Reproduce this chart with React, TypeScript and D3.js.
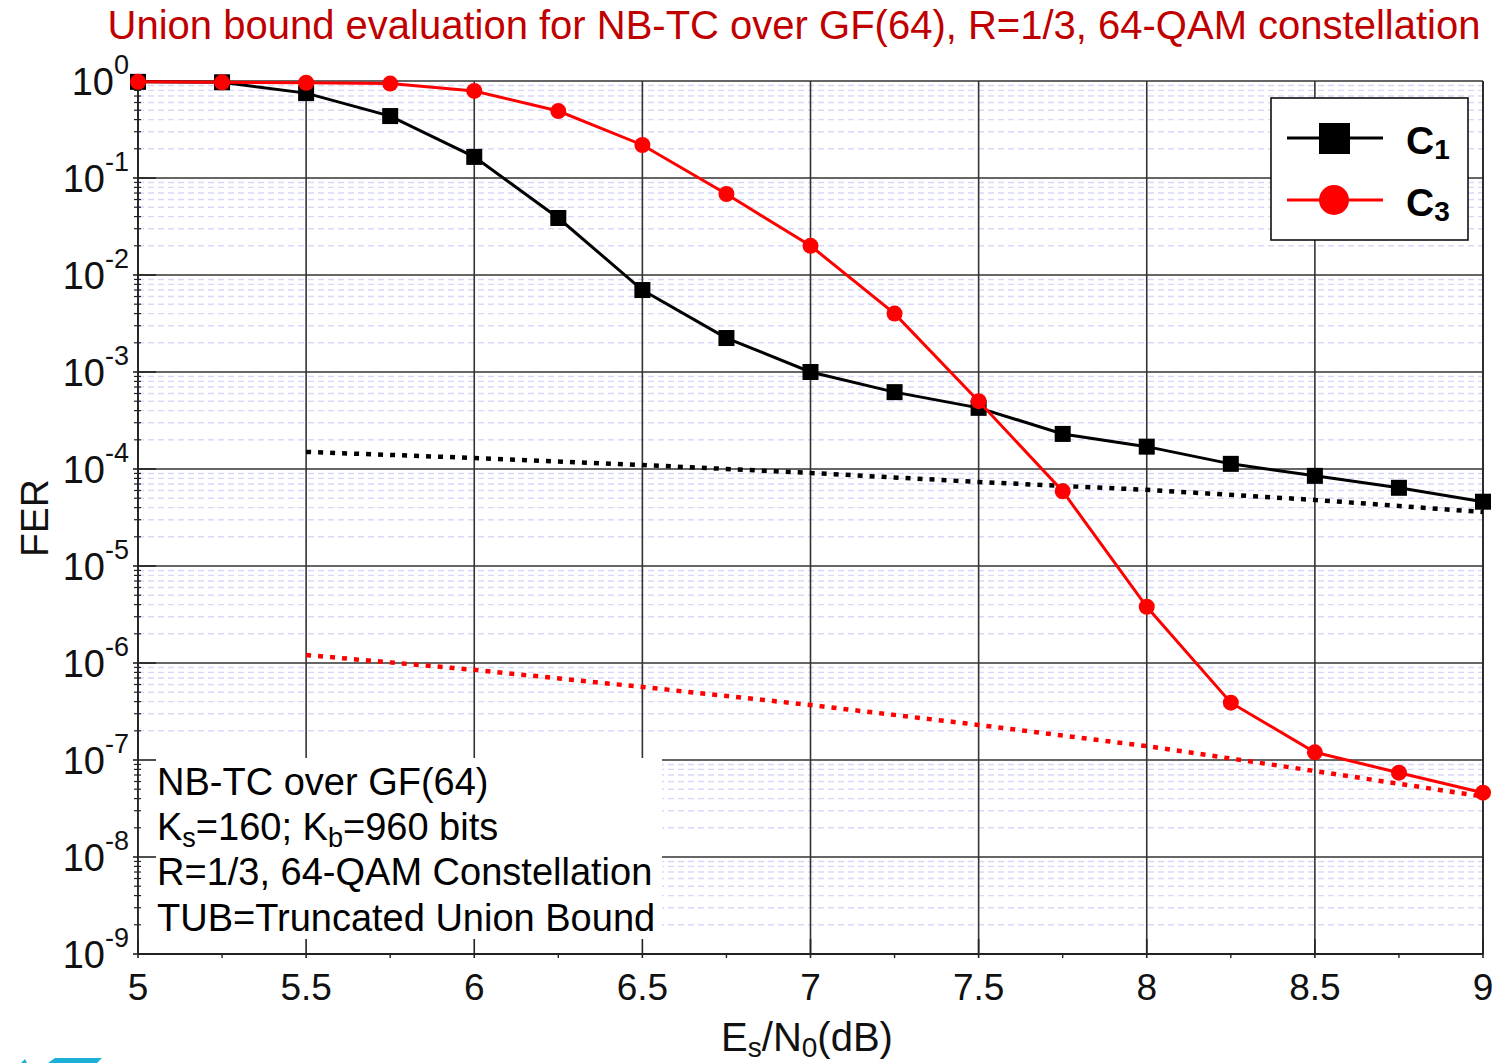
import React from 'react';
import * as d3 from 'd3';

const snr = [5, 5.25, 5.5, 5.75, 6, 6.25, 6.5, 6.75, 7, 7.25, 7.5, 7.75, 8, 8.25, 8.5, 8.75, 9];
const ferC1 = [0.98, 0.97, 0.75, 0.435, 0.165, 0.0387, 0.007, 0.00224, 1.0e-3, 6.2e-4, 4.27e-4, 2.3e-4, 1.7e-4, 1.13e-4, 8.5e-5, 6.4e-5, 4.6e-5];
const ferC3 = [0.98, 0.97, 0.96, 0.94, 0.79, 0.49, 0.219, 0.0684, 0.02, 0.004, 5.0e-4, 5.9e-5, 3.8e-6, 3.9e-7, 1.2e-7, 7.4e-8, 4.6e-8];
const tubSnr = [5.5, 6, 6.5, 7, 7.5, 8, 8.5, 9];
const tubC1 = [1.5e-4, 1.3e-4, 1.1e-4, 9.1e-5, 7.35e-5, 6.1e-5, 4.8e-5, 3.6e-5];
const tubC3 = [1.21e-6, 8.5e-7, 5.66e-7, 3.69e-7, 2.3e-7, 1.39e-7, 7.7e-8, 4.2e-8];
const xTickValues = [5, 5.5, 6, 6.5, 7, 7.5, 8, 8.5, 9];
const xTickLabels = ['5', '5.5', '6', '6.5', '7', '7.5', '8', '8.5', '9'];
const xMinorTicks = [5.25, 5.75, 6.25, 6.75, 7.25, 7.75, 8.25, 8.75];
const yExponents = [0, -1, -2, -3, -4, -5, -6, -7, -8, -9];
const infoLines = ['NB-TC over GF(64)', 'Ks=160; Kb=960 bits', 'R=1/3, 64-QAM Constellation', 'TUB=Truncated Union Bound'];

const FONT = '"Liberation Sans", Arial, sans-serif';

export default function App() {
  const L = 138, R = 1483, T = 81, B = 954;
  const x = d3.scaleLinear().domain([5, 9]).range([L, R]);
  const y = d3.scaleLog().domain([1, 1e-9]).range([T, B]);

  const minorVals: number[] = [];
  for (let k = -9; k <= -1; k++) for (let m = 2; m <= 9; m++) minorVals.push(m * Math.pow(10, k));

  const line = d3.line<[number, number]>().x(d => x(d[0])).y(d => y(d[1]));
  const c1 = snr.map((s, i) => [s, ferC1[i]] as [number, number]);
  const c3 = snr.map((s, i) => [s, ferC3[i]] as [number, number]);
  const t1 = tubSnr.map((s, i) => [s, tubC1[i]] as [number, number]);
  const t3 = tubSnr.map((s, i) => [s, tubC3[i]] as [number, number]);

  return (
    <svg width={1501} height={1063} style={{ position: 'absolute', left: 0, top: 0, background: '#fff' }} fontFamily={FONT}>
      <rect x={0} y={0} width={1501} height={1063} fill="#fff" />
      {/* minor grid */}
      {minorVals.map((v, i) => (
        <line key={'mg' + i} x1={L} x2={R} y1={y(v)} y2={y(v)} stroke="#d8d8f8" strokeWidth={1.4} strokeDasharray="6,4" />
      ))}
      {/* major grid */}
      {yExponents.map(e => (
        <line key={'gy' + e} x1={L} x2={R} y1={y(Math.pow(10, e))} y2={y(Math.pow(10, e))} stroke="#333" strokeWidth={1.6} />
      ))}
      {xTickValues.map(v => (
        <line key={'gx' + v} x1={x(v)} x2={x(v)} y1={T} y2={B} stroke="#333" strokeWidth={1.6} />
      ))}
      {/* info box background */}
      <rect x={L} y={758} width={524} height={B - 758} fill="#fff" />
      {/* ticks */}
      {yExponents.map(e => (
        <line key={'ty' + e} x1={L - 5} x2={L + 18} y1={y(Math.pow(10, e))} y2={y(Math.pow(10, e))} stroke="#222" strokeWidth={1.6} />
      ))}
      {minorVals.map((v, i) => (
        <line key={'tmy' + i} x1={L - 4} x2={L + 3} y1={y(v)} y2={y(v)} stroke="#222" strokeWidth={1.2} />
      ))}
      {xTickValues.map(v => (
        <line key={'tx' + v} x1={x(v)} x2={x(v)} y1={B - 15} y2={B + 4} stroke="#222" strokeWidth={1.6} />
      ))}
      {xMinorTicks.map(v => (
        <line key={'tmx' + v} x1={x(v)} x2={x(v)} y1={B} y2={B + 4} stroke="#222" strokeWidth={1.4} />
      ))}
      {/* axes */}
      <line x1={L} x2={L} y1={T} y2={B} stroke="#222" strokeWidth={1.8} />
      <line x1={L} x2={R} y1={B} y2={B} stroke="#222" strokeWidth={1.8} />
      <line x1={R} x2={R} y1={T} y2={B} stroke="#222" strokeWidth={1.6} />
      {/* tick labels */}
      {yExponents.map(e => (
        <text key={'ly' + e} x={129} y={y(Math.pow(10, e)) + 14} fontSize={38} textAnchor="end" fill="#111">
          10<tspan dy={-21} fontSize={27}>{String(e)}</tspan>
        </text>
      ))}
      {xTickValues.map((v, i) => (
        <text key={'lx' + v} x={x(v)} y={1000} fontSize={37} textAnchor="middle" fill="#111">{xTickLabels[i]}</text>
      ))}
      {/* axis titles */}
      <text x={807} y={1051} fontSize={40} textAnchor="middle" fill="#111">
        E<tspan dy={6} fontSize={28}>s</tspan><tspan dy={-6}>/N</tspan><tspan dy={6} fontSize={28}>0</tspan><tspan dy={-6}>(dB)</tspan>
      </text>
      <text transform="translate(48,518) rotate(-90)" fontSize={39} textAnchor="middle" fill="#111">FER</text>
      {/* title */}
      <text x={794} y={39} fontSize={40} textAnchor="middle" fill="#c00000">
        Union bound evaluation for NB-TC over GF(64), R=1/3, 64-QAM constellation
      </text>
      {/* TUB dotted */}
      <path d={line(t1) || ''} fill="none" stroke="#000" strokeWidth={4.5} strokeDasharray="5,7" />
      <path d={line(t3) || ''} fill="none" stroke="#ff0000" strokeWidth={4.5} strokeDasharray="5,7" />
      {/* series */}
      <path d={line(c1) || ''} fill="none" stroke="#000" strokeWidth={3} />
      {c1.map((d, i) => (
        <rect key={'m1' + i} x={x(d[0]) - 8} y={y(d[1]) - 8} width={16} height={16} fill="#000" />
      ))}
      <path d={line(c3) || ''} fill="none" stroke="#ff0000" strokeWidth={3} />
      {c3.map((d, i) => (
        <circle key={'m3' + i} cx={x(d[0])} cy={y(d[1])} r={8} fill="#ff0000" />
      ))}
      {/* info text */}
      <text x={157} y={795} fontSize={38} fill="#000">{infoLines[0]}</text>
      <text x={157} y={840} fontSize={38} fill="#000">
        K<tspan dy={7} fontSize={27}>s</tspan><tspan dy={-7}>=160; K</tspan><tspan dy={7} fontSize={27}>b</tspan><tspan dy={-7}>=960 bits</tspan>
      </text>
      <text x={157} y={885} fontSize={38} fill="#000">{infoLines[2]}</text>
      <text x={157} y={931} fontSize={38} fill="#000">{infoLines[3]}</text>
      {/* legend */}
      <rect x={1271} y={98} width={197} height={142} fill="#fff" stroke="#111" strokeWidth={1.6} />
      <line x1={1287} x2={1383} y1={138} y2={138} stroke="#000" strokeWidth={3} />
      <rect x={1319} y={123} width={31} height={31} fill="#000" />
      <line x1={1287} x2={1383} y1={200} y2={200} stroke="#ff0000" strokeWidth={3} />
      <circle cx={1334} cy={200} r={15} fill="#ff0000" />
      <text x={1406} y={154} fontSize={39} fontWeight="bold" fill="#000">
        C<tspan dy={5} fontSize={28}>1</tspan>
      </text>
      <text x={1406} y={216} fontSize={39} fontWeight="bold" fill="#000">
        C<tspan dy={5} fontSize={28}>3</tspan>
      </text>
      {/* cyan fragment at bottom-left */}
      <polygon points="48,1063 55,1058 102,1058 97,1063" fill="#1ab0d8" />
      <polygon points="21,1063 25,1059 27,1063" fill="#1ab0d8" />
    </svg>
  );
}
